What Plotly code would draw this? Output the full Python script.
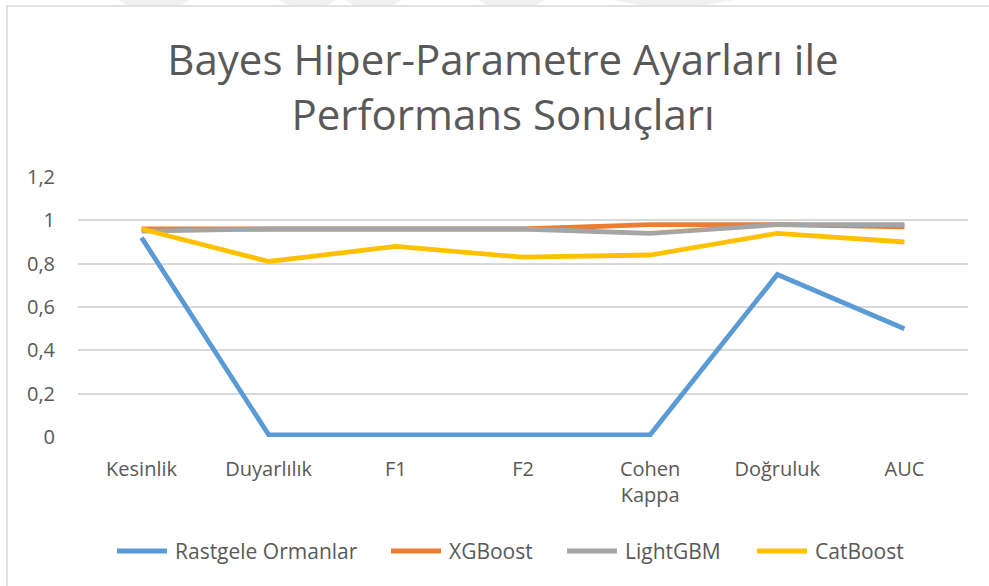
import plotly.graph_objects as go

categories = ["Kesinlik", "Duyarlılık", "F1", "F2", "Cohen<br>Kappa", "Doğruluk", "AUC"]
rastgele_ormanlar = [0.92, 0.01, 0.01, 0.01, 0.01, 0.75, 0.50]
xgboost = [0.96, 0.96, 0.96, 0.96, 0.98, 0.98, 0.97]
lightgbm = [0.95, 0.96, 0.96, 0.96, 0.94, 0.98, 0.98]
catboost = [0.96, 0.81, 0.88, 0.83, 0.84, 0.94, 0.90]
y_ticks = [0, 0.2, 0.4, 0.6, 0.8, 1, 1.2]
y_tick_text = ["0", "0,2", "0,4", "0,6", "0,8", "1", "1,2"]

series = [
    ("Rastgele Ormanlar", rastgele_ormanlar, "#5B9BD5"),
    ("XGBoost", xgboost, "#ED7D31"),
    ("LightGBM", lightgbm, "#A5A5A5"),
    ("CatBoost", catboost, "#FFC000"),
]

W, H = 989, 586
L, R, T, B = 78, 21, 177, 149
pw, ph = W - L - R, H - T - B


def px(x):
    return (x - L) / pw


def py(y):
    return (H - B - y) / ph


fig = go.Figure()
for name, vals, color in series:
    fig.add_trace(go.Scatter(
        x=categories, y=vals, name=name, mode="lines",
        line=dict(color=color, width=4.8), showlegend=False,
    ))

shapes = []
annotations = []
# faint background marks along the top edge
for x0, x1, x2, x3 in [(118, 190, 180, 128), (278, 336, 326, 290), (345, 402, 392, 355),
                       (478, 545, 535, 488), (612, 735, 700, 645)]:
    shapes.append(dict(
        type="path", xref="paper", yref="paper", layer="below",
        path=f"M {px(x0)} {py(0)} L {px(x1)} {py(0)} L {px(x2)} {py(6)} L {px(x3)} {py(6)} Z",
        fillcolor="#f1f1f1", line=dict(width=0),
    ))
# chart frame
shapes.append(dict(
    type="rect", xref="paper", yref="paper",
    x0=px(7), x1=px(1000), y0=py(600), y1=py(6),
    line=dict(color="#d9d9d9", width=1.5), fillcolor="rgba(0,0,0,0)", layer="below",
))

# legend row below the axis: a line sample followed by the series name
legend_x = [115, 389, 565, 755]
legend_y = 551
for (name, _, color), lx in zip(series, legend_x):
    shapes.append(dict(
        type="line", xref="paper", yref="paper",
        x0=px(lx + 2), x1=px(lx + 52), y0=py(legend_y), y1=py(legend_y),
        line=dict(color=color, width=5),
    ))
    annotations.append(dict(
        text=name, xref="paper", yref="paper", showarrow=False,
        x=px(lx + 58), y=py(legend_y), xanchor="left", yanchor="middle",
        font=dict(size=21, color="#595959"),
    ))

fig.update_layout(
    width=W, height=H,
    margin=dict(l=L, r=R, t=T, b=B),
    paper_bgcolor="white", plot_bgcolor="white",
    font=dict(family="Open Sans, Liberation Sans, sans-serif", color="#595959"),
    title=dict(
        text="Bayes Hiper-Parametre Ayarları ile<br>Performans Sonuçları",
        x=503 / W, xref="container", xanchor="center",
        y=1 - 75 / H, yref="container", yanchor="middle",
        font=dict(size=42, color="#595959"),
    ),
    xaxis=dict(
        range=[-0.5, 6.5],
        showgrid=False, zeroline=False, showline=False,
        tickfont=dict(size=20, color="#595959"), ticks="",
        ticklabelstandoff=18,
    ),
    yaxis=dict(
        range=[0, 1.2], tickvals=y_ticks, ticktext=y_tick_text,
        showgrid=True, gridcolor="#d9d9d9", gridwidth=1.5,
        zeroline=False, showline=False, ticks="",
        tickfont=dict(size=20, color="#595959"), ticklabelstandoff=22,
    ),
    shapes=shapes,
    annotations=annotations,
    showlegend=False,
)

fig.write_html("out.html")
